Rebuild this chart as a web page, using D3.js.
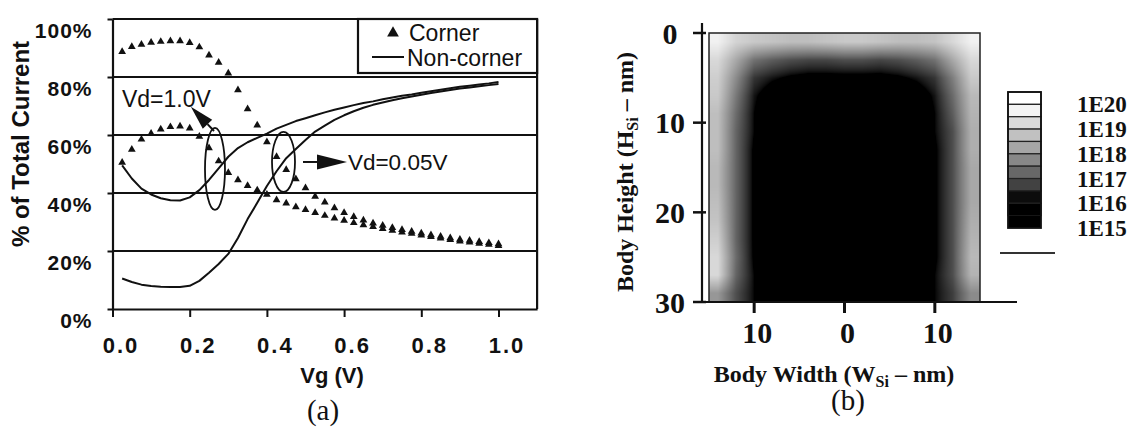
<!DOCTYPE html>
<html>
<head>
<meta charset="utf-8">
<script src="https://cdn.jsdelivr.net/npm/d3@7"></script>
<style>
  html, body { margin: 0; padding: 0; background: #fff; }
  svg { display: block; }
</style>
</head>
<body>
<svg id="fig" width="1133" height="429"></svg>
<script>
// ---------- (a) share of the total drain current carried by corner / non-corner channels ----------
const vg = [0.025, 0.05, 0.075, 0.1, 0.125, 0.15, 0.175, 0.2, 0.225, 0.25,
            0.275, 0.3, 0.325, 0.35, 0.375, 0.4, 0.425, 0.45, 0.475, 0.5,
            0.525, 0.55, 0.575, 0.6, 0.625, 0.65, 0.675, 0.7, 0.725, 0.75,
            0.775, 0.8, 0.825, 0.85, 0.875, 0.9, 0.925, 0.95, 0.975, 1.0];

const cornerVd10 = [88.7, 90.4, 91.2, 91.9, 92.2, 92.4, 92.4, 91.8, 90.3, 87.5,
                    85.0, 81.3, 75.5, 69.0, 63.4, 57.6, 52.5, 48.0, 44.8, 41.7,
                    38.8, 36.8, 34.8, 33.2, 31.8, 30.6, 29.6, 28.8, 28.0, 27.3,
                    26.7, 26.1, 25.5, 25.0, 24.5, 24.0, 23.6, 23.2, 22.8, 22.4];

const cornerVd005 = [50.5, 55.0, 58.5, 60.5, 62.0, 62.8, 63.0, 62.3, 59.5, 55.5,
                     51.0, 47.0, 44.5, 42.5, 41.0, 39.5, 37.6, 36.5, 35.2, 34.2,
                     33.2, 32.2, 31.3, 30.5, 29.7, 29.0, 28.4, 27.7, 27.1, 26.5,
                     26.0, 25.4, 24.9, 24.4, 23.9, 23.4, 23.0, 22.6, 22.2, 21.8];

const nonCornerVd10 = [10.5, 9.3, 8.4, 7.9, 7.7, 7.6, 7.6, 8.0, 9.7, 12.5,
                       15.5, 19.0, 24.5, 31.0, 36.6, 42.4, 47.5, 52.0, 55.2, 58.3,
                       61.2, 63.2, 65.2, 66.8, 68.2, 69.4, 70.4, 71.2, 72.0, 72.7,
                       73.3, 73.9, 74.5, 75.0, 75.5, 76.0, 76.4, 76.8, 77.2, 77.6];

const nonCornerVd005 = [49.5, 45.0, 41.5, 39.5, 38.2, 37.5, 37.4, 38.5, 41.0, 44.5,
                        48.5, 52.5, 55.5, 57.5, 59.0, 60.5, 62.2, 63.5, 64.8, 65.8,
                        66.8, 67.8, 68.7, 69.5, 70.3, 71.0, 71.6, 72.3, 72.9, 73.5,
                        74.0, 74.6, 75.1, 75.6, 76.1, 76.6, 77.0, 77.4, 77.8, 78.3];

const vgTicks = [0, 0.2, 0.4, 0.6, 0.8, 1.0];
const pctTicks = [0, 20, 40, 60, 80, 100];

// ---------- (b) electron density (log10 cm^-3) over the fin cross-section, 2 nm cells ----------
const widthCenters = [-14, -12, -10, -8, -6, -4, -2, 0, 2, 4, 6, 8, 10, 12, 14];
const heightCenters = [1, 3, 5, 7, 9, 11, 13, 15, 17, 19, 21, 23, 25, 27, 29];
const logDensity = [
  [19.7, 19.1, 18.9, 18.8, 18.7, 18.7, 18.8, 18.9, 18.9, 18.8, 18.7, 18.7, 18.8, 19.2, 19.7],
  [19.2, 18.3, 17.4, 17.1, 16.9, 16.8, 16.8, 16.9, 16.9, 16.8, 16.9, 17.1, 17.4, 18.3, 19.2],
  [19.0, 17.8, 16.6, 16.3, 16.1, 16.0, 16.0, 16.0, 16.0, 16.0, 16.1, 16.3, 16.6, 17.6, 18.9],
  [18.9, 17.5, 16.3, 15.8, 15.6, 15.5, 15.5, 15.5, 15.5, 15.5, 15.6, 15.8, 16.3, 17.3, 18.6],
  [18.7, 17.3, 16.2, 15.6, 15.4, 15.3, 15.3, 15.3, 15.3, 15.3, 15.4, 15.6, 16.2, 17.1, 18.5],
  [18.7, 17.2, 16.2, 15.5, 15.3, 15.2, 15.2, 15.2, 15.2, 15.2, 15.3, 15.5, 16.2, 16.9, 18.4],
  [18.7, 17.2, 16.1, 15.5, 15.3, 15.2, 15.2, 15.2, 15.2, 15.2, 15.3, 15.5, 16.1, 16.9, 18.4],
  [18.6, 17.2, 16.1, 15.5, 15.3, 15.2, 15.2, 15.2, 15.2, 15.2, 15.3, 15.5, 16.1, 16.9, 18.3],
  [18.6, 17.2, 16.1, 15.5, 15.3, 15.2, 15.2, 15.2, 15.2, 15.2, 15.3, 15.5, 16.1, 16.9, 18.3],
  [18.7, 17.2, 16.1, 15.5, 15.3, 15.2, 15.2, 15.2, 15.2, 15.2, 15.3, 15.5, 16.1, 16.9, 18.3],
  [18.8, 17.2, 16.1, 15.5, 15.3, 15.2, 15.2, 15.2, 15.2, 15.2, 15.3, 15.5, 16.1, 16.9, 18.4],
  [19.0, 17.2, 16.1, 15.5, 15.3, 15.2, 15.2, 15.2, 15.2, 15.2, 15.3, 15.5, 16.1, 16.9, 18.5],
  [19.2, 17.3, 16.1, 15.6, 15.4, 15.3, 15.3, 15.3, 15.3, 15.3, 15.4, 15.6, 16.1, 16.9, 18.6],
  [19.2, 17.2, 16.2, 15.8, 15.6, 15.5, 15.5, 15.5, 15.5, 15.5, 15.6, 15.8, 16.2, 16.9, 18.5],
  [18.0, 16.9, 16.2, 16.1, 16.0, 16.0, 16.0, 16.0, 16.0, 16.0, 16.0, 16.1, 16.2, 16.7, 17.8]
];
const widthTicks = [-10, 0, 10];
const heightTicks = [0, 10, 20, 30];
const densityTicks = [20, 19, 18, 17, 16, 15];
const colorbarLevels = [20, 19.5, 19, 18.5, 18, 17.5, 17, 16.5, 16, 15.5, 15];

// ---------- shared ----------
const SANS = "'Liberation Sans', Arial, Helvetica, sans-serif";
const SERIF = "'Liberation Serif', 'Times New Roman', Times, serif";
const INK = "#111";
const svg = d3.select("#fig");

// ================= panel (a) =================
const x = d3.scaleLinear().domain([0, 1.1]).range([112.5, 537.1]);
const y = d3.scaleLinear().domain([0, 100]).range([309, 19]);
const gA = svg.append("g");

// horizontal gridlines and frame
gA.selectAll("line.grid").data(pctTicks.filter(d => d > 0)).join("line")
  .attr("class", "grid")
  .attr("x1", x(0)).attr("x2", x(1.1))
  .attr("y1", d => y(d)).attr("y2", d => y(d))
  .attr("stroke", INK).attr("stroke-width", 2.2);
gA.append("line")
  .attr("x1", x(1.1)).attr("x2", x(1.1)).attr("y1", y(100)).attr("y2", y(0))
  .attr("stroke", INK).attr("stroke-width", 2.2);

// curves
const line = d3.line().x(d => x(d[0])).y(d => y(d[1]));
[nonCornerVd10, nonCornerVd005].forEach(s => {
  gA.append("path").datum(d3.zip(vg, s))
    .attr("d", line).attr("fill", "none")
    .attr("stroke", INK).attr("stroke-width", 2).attr("stroke-linejoin", "round");
});
const tri = d3.symbol(d3.symbolTriangle, 26);
[cornerVd10, cornerVd005].forEach(s => {
  gA.append("g").selectAll("path").data(d3.zip(vg, s)).join("path")
    .attr("d", tri)
    .attr("transform", d => `translate(${x(d[0])},${y(d[1])})`)
    .attr("fill", INK);
});

// annotation: ellipses grouping the curve pairs, arrows and drain-bias labels
const groupMarks = [
  { vg: 0.2655, pct: 48.3, rx: 10, ry: 41 },
  { vg: 0.443, pct: 50.7, rx: 11.5, ry: 30 }
];
gA.selectAll("ellipse").data(groupMarks).join("ellipse")
  .attr("cx", d => x(d.vg)).attr("cy", d => y(d.pct))
  .attr("rx", d => d.rx).attr("ry", d => d.ry)
  .attr("fill", "none").attr("stroke", INK).attr("stroke-width", 1.8);

function arrow(from, to, headLen, headW) {
  const x0 = x(from[0]), y0 = y(from[1]), x1 = x(to[0]), y1 = y(to[1]);
  const len = Math.hypot(x1 - x0, y1 - y0);
  const ux = (x1 - x0) / len, uy = (y1 - y0) / len;
  const bx = x1 - ux * headLen, by = y1 - uy * headLen;
  gA.append("line").attr("x1", x0).attr("y1", y0).attr("x2", bx).attr("y2", by)
    .attr("stroke", INK).attr("stroke-width", 2);
  gA.append("path")
    .attr("d", `M${x1},${y1}L${bx - uy * headW / 2},${by + ux * headW / 2}L${bx + uy * headW / 2},${by - ux * headW / 2}Z`)
    .attr("fill", INK);
}
arrow([0.263, 61.4], [0.203, 69.7], 24, 13);
arrow([0.4935, 50.7], [0.6075, 50.7], 30, 15);

gA.append("text").attr("x", x(0.0246)).attr("y", y(69.7))
  .attr("font-family", SANS).attr("font-size", 23).attr("fill", INK).text("Vd=1.0V");
gA.append("text").attr("x", x(0.61)).attr("y", y(47.9))
  .attr("font-family", SANS).attr("font-size", 22.5).attr("fill", INK).text("Vd=0.05V");

// legend
const leg = gA.append("g");
leg.append("rect").attr("x", 358).attr("y", y(100)).attr("width", x(1.1) - 358).attr("height", 54)
  .attr("fill", "#fff").attr("stroke", INK).attr("stroke-width", 2.2);
leg.append("path").attr("d", d3.symbol(d3.symbolTriangle, 60)).attr("transform", "translate(393,33)").attr("fill", INK);
leg.append("text").attr("x", 409).attr("y", 41).attr("font-family", SANS).attr("font-size", 23).attr("fill", INK).text("Corner");
leg.append("line").attr("x1", 372).attr("x2", 404).attr("y1", 57).attr("y2", 57).attr("stroke", INK).attr("stroke-width", 2);
leg.append("text").attr("x", 407).attr("y", 66).attr("font-family", SANS).attr("font-size", 23).attr("fill", INK).text("Non-corner");

// axes
const xAxisA = gA.append("g").attr("transform", `translate(0,${y(0)})`)
  .call(d3.axisBottom(x).tickValues(vgTicks).tickFormat(d3.format(".1f")).tickSize(8).tickSizeOuter(0));
xAxisA.select(".domain").attr("stroke", INK).attr("stroke-width", 2.2);
xAxisA.selectAll(".tick line").attr("stroke", INK).attr("stroke-width", 2);
xAxisA.selectAll(".tick text").attr("x", 8).attr("y", 44).attr("dy", 0)
  .attr("font-family", SANS).attr("font-size", 22).attr("font-weight", "bold")
  .attr("letter-spacing", 2).attr("fill", INK);

const yAxisA = gA.append("g").attr("transform", `translate(${x(0)},0)`)
  .call(d3.axisLeft(y).tickValues(pctTicks).tickFormat(d => d + "%").tickSize(5).tickSizeOuter(0).tickPadding(15));
yAxisA.select(".domain").attr("stroke", INK).attr("stroke-width", 2.2);
yAxisA.selectAll(".tick line").attr("stroke", INK).attr("stroke-width", 2);
yAxisA.selectAll(".tick text").attr("y", 11).attr("dy", "0.36em")
  .attr("font-family", SANS).attr("font-size", 21).attr("font-weight", "bold")
  .attr("letter-spacing", 1).attr("fill", INK);

gA.append("text").attr("transform", "translate(29,144) rotate(-90)").attr("text-anchor", "middle")
  .attr("font-family", SANS).attr("font-size", 24).attr("font-weight", "bold").attr("fill", INK)
  .text("% of Total Current");
gA.append("text").attr("x", 332).attr("y", 383).attr("text-anchor", "middle")
  .attr("font-family", SANS).attr("font-size", 22).attr("font-weight", "bold").attr("fill", INK)
  .text("Vg (V)");
gA.append("text").attr("x", 323).attr("y", 420).attr("text-anchor", "middle")
  .attr("font-family", SERIF).attr("font-size", 29).attr("fill", INK).text("(a)");

// ================= panel (b) =================
const xb = d3.scaleLinear().domain([-15, 15]).range([709, 980]);
const yb = d3.scaleLinear().domain([0, 30]).range([33, 302]);
const shade = d3.scaleLinear().domain([16.2, 20]).range([0, 1]).clamp(true);
const densityColor = v => d3.interpolateRgb("#000", "#fff")(Math.pow(shade(v), 0.7));
const gB = svg.append("g");

// density map: log density bilinearly interpolated between cell centres, one canvas pixel per screen pixel
const cw = widthCenters.length, ch = heightCenters.length;
const colIndex = d3.scaleLinear().domain([widthCenters[0], widthCenters[cw - 1]]).range([0, cw - 1]).clamp(true);
const rowIndex = d3.scaleLinear().domain([heightCenters[0], heightCenters[ch - 1]]).range([0, ch - 1]).clamp(true);
const mx0 = Math.round(xb(-15)), mx1 = Math.round(xb(15));
const my0 = Math.round(yb(0)), my1 = Math.round(yb(30));
const W = mx1 - mx0, H = my1 - my0;
const cnv = document.createElement("canvas");
cnv.width = W; cnv.height = H;
const ctx = cnv.getContext("2d");
const img = ctx.createImageData(W, H);
for (let py = 0; py < H; py++) {
  const fj = rowIndex(yb.invert(my0 + py + 0.5));
  const j0 = Math.min(Math.floor(fj), ch - 2), tj = fj - j0;
  for (let px = 0; px < W; px++) {
    const fi = colIndex(xb.invert(mx0 + px + 0.5));
    const i0 = Math.min(Math.floor(fi), cw - 2), ti = fi - i0;
    const top = logDensity[j0][i0] * (1 - ti) + logDensity[j0][i0 + 1] * ti;
    const bot = logDensity[j0 + 1][i0] * (1 - ti) + logDensity[j0 + 1][i0 + 1] * ti;
    const c = d3.rgb(densityColor(top * (1 - tj) + bot * tj));
    const k = 4 * (py * W + px);
    img.data[k] = c.r; img.data[k + 1] = c.g; img.data[k + 2] = c.b; img.data[k + 3] = 255;
  }
}
ctx.putImageData(img, 0, 0);
gB.append("image").attr("href", cnv.toDataURL())
  .attr("x", mx0).attr("y", my0).attr("width", W).attr("height", H)
  .attr("preserveAspectRatio", "none");
gB.append("rect").attr("x", mx0).attr("y", my0).attr("width", W).attr("height", H)
  .attr("fill", "none").attr("stroke", "#222").attr("stroke-width", 1.5);

// axes of the cross-section
const axisX = 702;
gB.append("line").attr("x1", axisX).attr("x2", axisX).attr("y1", 23).attr("y2", yb(30))
  .attr("stroke", INK).attr("stroke-width", 2.2);
gB.append("line").attr("x1", axisX).attr("x2", 1017).attr("y1", yb(30)).attr("y2", yb(30))
  .attr("stroke", INK).attr("stroke-width", 2.2);
gB.selectAll("line.ytick").data(heightTicks).join("line").attr("class", "ytick")
  .attr("x1", axisX - 9).attr("x2", axisX + 4).attr("y1", d => yb(d)).attr("y2", d => yb(d))
  .attr("stroke", INK).attr("stroke-width", 2.5);
gB.selectAll("text.ytick").data(heightTicks).join("text").attr("class", "ytick")
  .attr("x", 670).attr("y", d => yb(d)).attr("dy", "0.35em").attr("text-anchor", "middle")
  .attr("font-family", SERIF).attr("font-size", 30).attr("font-weight", "bold").attr("fill", INK)
  .text(d => d);
gB.selectAll("line.xtick").data(widthTicks).join("line").attr("class", "xtick")
  .attr("x1", d => xb(d)).attr("x2", d => xb(d)).attr("y1", yb(30)).attr("y2", yb(30) + 11)
  .attr("stroke", INK).attr("stroke-width", 3);
gB.selectAll("text.xtick").data(widthTicks).join("text").attr("class", "xtick")
  .attr("x", d => xb(d) + 3).attr("y", 343).attr("text-anchor", "middle")
  .attr("font-family", SERIF).attr("font-size", 30).attr("font-weight", "bold").attr("fill", INK)
  .text(d => Math.abs(d));

const yTitle = gB.append("text").attr("transform", "translate(633,172) rotate(-90)").attr("text-anchor", "middle")
  .attr("font-family", SERIF).attr("font-size", 24).attr("font-weight", "bold").attr("fill", INK);
yTitle.append("tspan").text("Body Height (H");
yTitle.append("tspan").attr("font-size", 16).attr("dy", 5).text("Si");
yTitle.append("tspan").attr("dy", -5).text(" \u2013 nm)");

const xTitle = gB.append("text").attr("x", 834).attr("y", 382).attr("text-anchor", "middle")
  .attr("font-family", SERIF).attr("font-size", 24).attr("font-weight", "bold").attr("fill", INK);
xTitle.append("tspan").text("Body Width (W");
xTitle.append("tspan").attr("font-size", 16).attr("dy", 5).text("Si");
xTitle.append("tspan").attr("dy", -5).text(" \u2013 nm)");

gB.append("text").attr("x", 848).attr("y", 410).attr("text-anchor", "middle")
  .attr("font-family", SERIF).attr("font-size", 29).attr("fill", INK).text("(b)");

// colour bar
const cb = d3.scaleLinear().domain([20.5, 15]).range([92, 228]);
const cbX = 1008, cbW = 33;
gB.selectAll("rect.band").data(colorbarLevels.slice(0, -1)).join("rect").attr("class", "band")
  .attr("x", cbX).attr("width", cbW)
  .attr("y", d => cb(d + 0.5)).attr("height", d => cb(d) - cb(d + 0.5))
  .attr("fill", d => densityColor(d + 0.25))
  .attr("stroke", "#222").attr("stroke-width", 1.2);
gB.append("rect").attr("x", cbX).attr("width", cbW)
  .attr("y", cb(colorbarLevels[colorbarLevels.length - 1] + 0.5)).attr("height", cb(15) - cb(15.5))
  .attr("fill", densityColor(15.25));
gB.append("rect").attr("x", cbX).attr("y", cb(20.5)).attr("width", cbW).attr("height", cb(15) - cb(20.5))
  .attr("fill", "none").attr("stroke", INK).attr("stroke-width", 1.8);
gB.selectAll("text.cb").data(densityTicks).join("text").attr("class", "cb")
  .attr("x", 1077).attr("y", d => cb(d)).attr("dy", "0.35em")
  .attr("font-family", SERIF).attr("font-size", 23).attr("font-weight", "bold").attr("fill", INK)
  .text(d => "1E" + d);
gB.append("line").attr("x1", 1000).attr("x2", 1055).attr("y1", 253).attr("y2", 253)
  .attr("stroke", "#333").attr("stroke-width", 2);
</script>
</body>
</html>
